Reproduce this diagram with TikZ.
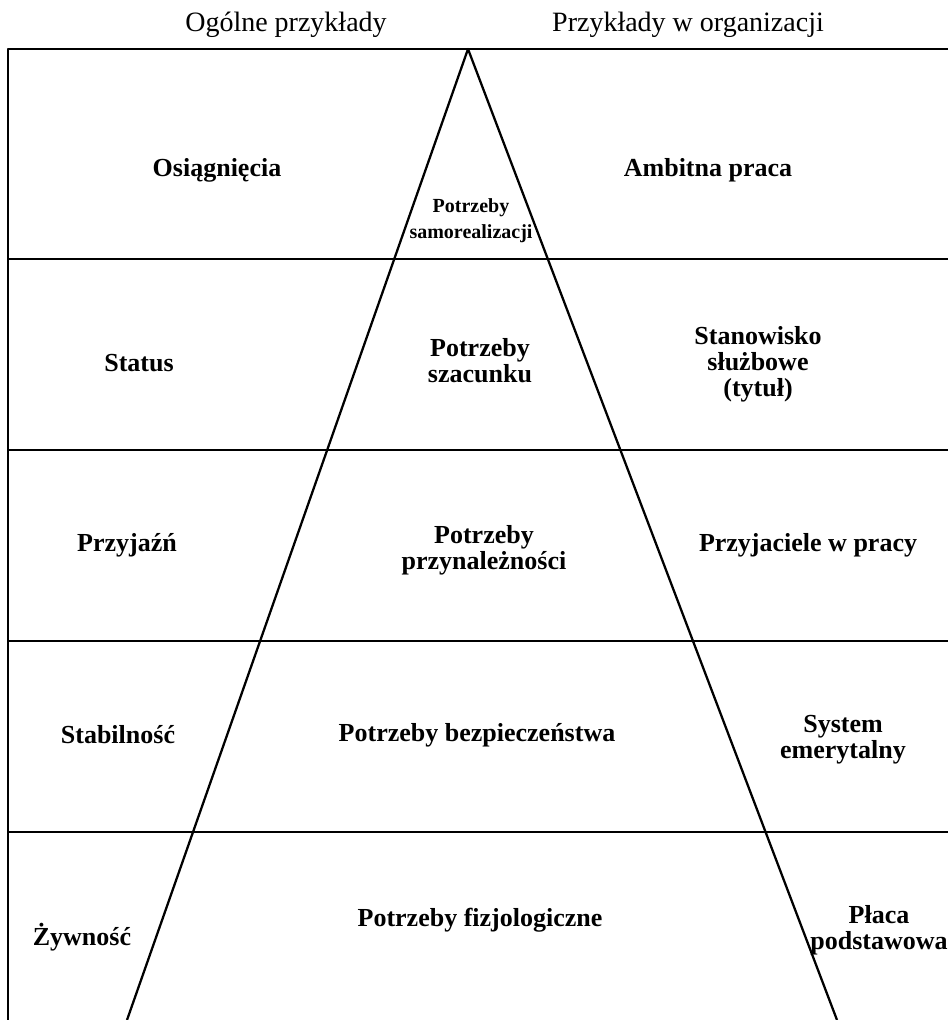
\documentclass[tikz,border=0pt]{standalone}
\usepackage{fontspec}
\setmainfont{Liberation Serif}
\usepackage{tikz}
\usetikzlibrary{positioning}

\begin{document}
\begin{tikzpicture}[x=0.75pt, y=-0.75pt, line width=1.7pt, line join=round]
			\tikzstyle{head}=[inner sep=0pt, font=\fontsize{21}{24}\selectfont]
			\tikzstyle{lab}=[inner sep=0pt, align=center, font=\bfseries\fontsize{19.5}{19.5}\selectfont]
			\tikzstyle{small lab}=[lab, font=\bfseries\fontsize{15}{19.5}\selectfont]
			
			\clip (0,0) rectangle (948,1020);
			
			% rama i poziomy
			\draw (8,1020) -- (8,49) -- (948,49);
			\foreach \y in {259,450,641,832}
			\draw (8,\y) -- (948,\y);
			
			% piramida
			\coordinate (apex) at (468,49);
			\coordinate (base_l) at (127,1020);
			\coordinate (base_r) at (837,1020);
			\draw (base_l) -- (apex) -- (base_r);
			
			\node[head]   (h_1)  at (286,25)                         {Ogólne przykłady};
			\node[head, node distance=301.5pt]   (h_2)  [right of=h_1]   {Przykłady w organizacji};
			
			\node[lab]   (o_1)  at (217,170)          {Osiągnięcia};
			\node[lab]   (o_2)  at (139,363)          {Status};
			\node[lab]   (o_3)  at (127,545)          {Przyjaźń};
			\node[lab]   (o_4)  at (118,735)          {Stabilność};
			\node[lab]   (o_5)  at (82,937)           {Żywność};
			
			\node[small lab]   (p_1)  at (471,221)    {Potrzeby\\samorealizacji};
			\node[lab]   (p_2)  at (480,361)          {Potrzeby\\szacunku};
			\node[lab]   (p_3)  at (484,550)          {Potrzeby\\przynależności};
			\node[lab]   (p_4)  at (477,735)          {Potrzeby bezpieczeństwa};
			\node[lab]   (p_5)  at (480,920)          {Potrzeby fizjologiczne};
			
			\node[lab]   (w_1)  at (708,170)          {Ambitna praca};
			\node[lab]   (w_2)  at (758,364)          {Stanowisko\\służbowe\\(tytuł)};
			\node[lab]   (w_3)  at (808,545)          {Przyjaciele w pracy};
			\node[lab]   (w_4)  at (843,740)          {System\\emerytalny};
			\node[lab]   (w_5)  at (879,930)          {Płaca\\podstawowa};
		\end{tikzpicture}
\end{document}
